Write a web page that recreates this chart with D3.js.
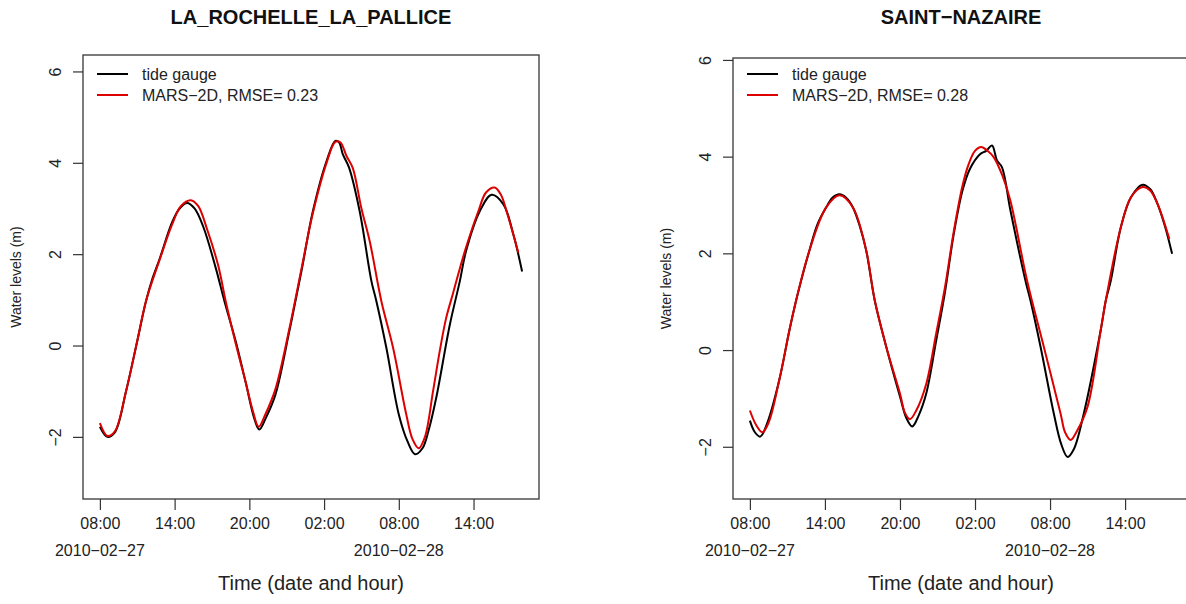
<!DOCTYPE html>
<html>
<head>
<meta charset="utf-8">
<script src="https://cdn.jsdelivr.net/npm/d3@7"></script>
<style>
  body { margin: 0; background: #fff; }
  svg { display: block; font-family: "Liberation Sans", Arial, sans-serif; }
</style>
</head>
<body>
<svg id="chart" width="1186" height="604"></svg>
<script>
// Godziny od 2010-02-27 08:00 (UTC) + poziomy wody (m)
const lrObsHours = [0, 0.6, 1.2, 2.1, 3.0, 3.7, 4.2, 4.8, 5.8, 6.4, 7.0, 7.6, 8.3, 9.3, 10.0, 10.9, 11.7, 12.4, 12.8, 13.3, 14.1, 15.2, 16.2, 17.1, 18.2, 18.9, 19.2, 19.5, 20.0, 20.85, 21.8, 22.2, 23.0, 24.0, 24.7, 25.3, 25.9, 26.4, 27.0, 28.1, 28.9, 29.4, 30.5, 31.45, 32.4, 33.2, 33.9];
const lrObsLevels = [-1.78, -2.0, -1.9, -1.0, 0.1, 0.97, 1.45, 1.9, 2.7, 3.0, 3.12, 3.0, 2.6, 1.7, 0.97, 0.1, -0.8, -1.6, -1.84, -1.6, -1.07, 0.3, 1.65, 2.94, 4.04, 4.48, 4.45, 4.19, 3.9, 2.95, 1.41, 0.97, -0.05, -1.51, -2.1, -2.38, -2.25, -1.85, -1.15, 0.46, 1.41, 2.07, 2.94, 3.3, 3.09, 2.43, 1.62];

const lrModHours = [0, 0.6, 1.2, 2.1, 3.0, 3.7, 4.8, 5.8, 6.5, 7.3, 7.9, 8.6, 9.5, 10.1, 10.9, 11.7, 12.3, 12.75, 13.3, 14.1, 15.2, 16.2, 17.1, 18.2, 18.9, 19.3, 19.8, 20.3, 21.0, 21.66, 22.6, 23.54, 24.6, 25.1, 25.6, 26.1, 26.75, 27.3, 27.8, 28.36, 28.76, 29.4, 30.4, 31.0, 31.7, 32.2, 32.65, 33.6];
const lrModLevels = [-1.7, -1.98, -1.88, -1.0, 0.1, 0.97, 1.88, 2.65, 3.05, 3.18, 3.05, 2.55, 1.75, 0.97, 0.05, -0.8, -1.45, -1.78, -1.5, -0.95, 0.35, 1.7, 2.9, 4.0, 4.46, 4.45, 4.15, 3.89, 3.0, 2.29, 0.97, -0.05, -1.51, -2.05, -2.25, -2.0, -1.0, -0.1, 0.6, 1.15, 1.55, 2.15, 2.95, 3.35, 3.46, 3.3, 2.94, 2.03];

const snObsHours = [0, 0.4, 0.83, 1.4, 2.35, 3.16, 3.7, 4.1, 4.76, 5.4, 6.1, 6.6, 7.17, 7.7, 8.24, 8.8, 9.3, 9.98, 10.9, 12.0, 12.5, 12.98, 13.5, 14.1, 14.9, 15.6, 16.3, 17.0, 17.6, 18.4, 18.9, 19.36, 19.76, 20.16, 20.83, 22.03, 22.43, 23.24, 24.3, 24.9, 25.4, 25.9, 26.7, 28.05, 28.46, 28.86, 29.66, 30.47, 31.4, 32.0, 32.6, 33.2, 33.76];
const snObsLevels = [-1.46, -1.7, -1.79, -1.5, -0.62, 0.41, 1.03, 1.44, 2.06, 2.6, 2.95, 3.15, 3.22, 3.15, 2.95, 2.55, 2.06, 1.03, 0.07, -0.96, -1.4, -1.58, -1.35, -0.9, 0.2, 1.2, 2.4, 3.3, 3.75, 4.05, 4.12, 4.23, 3.92, 3.78, 2.89, 1.44, 1.03, 0.07, -1.31, -1.95, -2.21, -2.05, -1.31, 0.41, 1.03, 1.44, 2.54, 3.16, 3.42, 3.33, 3.02, 2.55, 1.99];

const snModHours = [0, 0.5, 1.0, 1.5, 2.35, 3.16, 3.7, 4.76, 6.1, 7.17, 8.24, 9.3, 9.98, 10.9, 12.0, 12.4, 12.8, 13.3, 14.1, 14.9, 15.6, 16.3, 17.0, 17.5, 18.0, 18.5, 19.0, 19.49, 20.2, 20.83, 22.16, 23.5, 24.84, 25.2, 25.65, 26.1, 27.0, 28.05, 28.46, 29.66, 30.47, 31.4, 32.0, 32.6, 33.54];
const snModLevels = [-1.25, -1.55, -1.7, -1.5, -0.62, 0.41, 1.03, 2.06, 2.95, 3.2, 2.95, 2.06, 1.03, 0.07, -0.9, -1.3, -1.43, -1.25, -0.7, 0.35, 1.3, 2.45, 3.4, 3.85, 4.12, 4.2, 4.12, 3.99, 3.6, 3.09, 1.44, 0.07, -1.31, -1.7, -1.86, -1.7, -1.17, 0.41, 1.03, 2.54, 3.16, 3.37, 3.3, 3.02, 2.3];

const yTicks = [-2, 0, 2, 4, 6];
const xTickHours = [0, 6, 12, 18, 24, 30];
const dateLabels = [{ hour: 0, text: "2010\u221202\u221227" }, { hour: 24, text: "2010\u221202\u221228" }];
const legendLabels = ["tide gauge", "MARS\u22122D, RMSE= "];

const t0 = Date.UTC(2010, 1, 27, 8, 0);
const toDate = (h) => new Date(t0 + h * 3600 * 1000);
const zip = (hs, vs) => hs.map((h, i) => ({ t: toDate(h), v: vs[i] }));

const panels = [
  {
    title: "LA_ROCHELLE_LA_PALLICE",
    rmse: "0.23",
    obs: zip(lrObsHours, lrObsLevels),
    mod: zip(lrModHours, lrModLevels),
    box: { x0: 83, x1: 539, y0: 55, y1: 499 },
    yDomain: [-3.36, 6.36],
    ox: 0,
  },
  {
    title: "SAINT\u2212NAZAIRE",
    rmse: "0.28",
    obs: zip(snObsHours, snObsLevels),
    mod: zip(snModHours, snModLevels),
    box: { x0: 733, x1: 1189, y0: 58, y1: 499 },
    yDomain: [-3.08, 6.04],
    ox: 650,
  },
];

const svg = d3.select("#chart");
const fmtHour = d3.utcFormat("%H:%M");

panels.forEach((p) => {
  const g = svg.append("g");
  const b = p.box;

  // os X: zakres danych + 4% (jak w R)
  const tMin = d3.min(p.obs.concat(p.mod), (d) => d.t);
  const tMax = d3.max(p.obs.concat(p.mod), (d) => d.t);
  const pad = (tMax - tMin) * 0.04;
  const x = d3.scaleUtc()
    .domain([new Date(+tMin - pad), new Date(+tMax + pad)])
    .range([b.x0, b.x1]);
  const y = d3.scaleLinear().domain(p.yDomain).range([b.y1, b.y0]);

  const cx = (b.x0 + b.x1) / 2;

  // tytuł
  g.append("text")
    .attr("x", cx).attr("y", 24)
    .attr("text-anchor", "middle")
    .attr("font-size", 20).attr("font-weight", "bold")
    .attr("fill", "#111")
    .text(p.title);

  // linie
  const line = d3.line()
    .x((d) => x(d.t))
    .y((d) => y(d.v))
    .curve(d3.curveCatmullRom.alpha(0.5));

  g.append("path").datum(p.obs)
    .attr("d", line).attr("fill", "none")
    .attr("stroke", "#000").attr("stroke-width", 2);
  g.append("path").datum(p.mod)
    .attr("d", line).attr("fill", "none")
    .attr("stroke", "#dd0000").attr("stroke-width", 2);

  // ramka
  g.append("rect")
    .attr("x", b.x0).attr("y", b.y0)
    .attr("width", b.x1 - b.x0).attr("height", b.y1 - b.y0)
    .attr("fill", "none").attr("stroke", "#444").attr("stroke-width", 1.4);

  // oś Y
  const yAxis = g.append("g")
    .attr("transform", `translate(${b.x0},0)`)
    .call(d3.axisLeft(y).tickValues(yTicks).tickSize(10).tickPadding(0).tickFormat(() => ""));
  yAxis.select(".domain").remove();
  yAxis.selectAll("line").attr("stroke", "#333").attr("stroke-width", 1.2);
  yAxis.selectAll(".tick").append("text")
    .attr("transform", "translate(-22,0) rotate(-90)")
    .attr("text-anchor", "middle")
    .attr("fill", "#222")
    .attr("font-size", 16)
    .text((d) => (d < 0 ? "\u2212" + Math.abs(d) : d));

  // oś X
  const xAxis = g.append("g")
    .attr("transform", `translate(0,${b.y1})`)
    .call(d3.axisBottom(x).tickValues(xTickHours.map(toDate)).tickSize(11).tickPadding(0).tickFormat(() => ""));
  xAxis.select(".domain").remove();
  xAxis.selectAll("line").attr("stroke", "#333").attr("stroke-width", 1.2);
  xAxis.selectAll(".tick").append("text")
    .attr("y", 30)
    .attr("text-anchor", "middle")
    .attr("fill", "#222")
    .attr("font-size", 16)
    .text((d) => fmtHour(d));

  dateLabels.forEach((dl) => {
    g.append("text")
      .attr("x", x(toDate(dl.hour))).attr("y", b.y1 + 57)
      .attr("text-anchor", "middle")
      .attr("fill", "#222").attr("font-size", 16)
      .text(dl.text);
  });

  // tytuły osi
  g.append("text")
    .attr("x", cx).attr("y", 590)
    .attr("text-anchor", "middle")
    .attr("fill", "#222").attr("font-size", 20)
    .text("Time (date and hour)");

  g.append("text")
    .attr("transform", `translate(${p.ox + 21},${(b.y0 + b.y1) / 2}) rotate(-90)`)
    .attr("text-anchor", "middle")
    .attr("fill", "#222").attr("font-size", 14)
    .text("Water levels (m)");

  // legenda (ta sama wysokość w obu panelach)
  const lg = g.append("g").attr("transform", `translate(${b.x0 + 14},74)`);
  [["#000", legendLabels[0]], ["#dd0000", legendLabels[1] + p.rmse]].forEach(([c, txt], i) => {
    lg.append("line")
      .attr("x1", 0).attr("x2", 31)
      .attr("y1", i * 21).attr("y2", i * 21)
      .attr("stroke", c).attr("stroke-width", 2);
    lg.append("text")
      .attr("x", 45).attr("y", i * 21 + 6)
      .attr("fill", "#222").attr("font-size", 16)
      .text(txt);
  });
});
</script>
</body>
</html>
